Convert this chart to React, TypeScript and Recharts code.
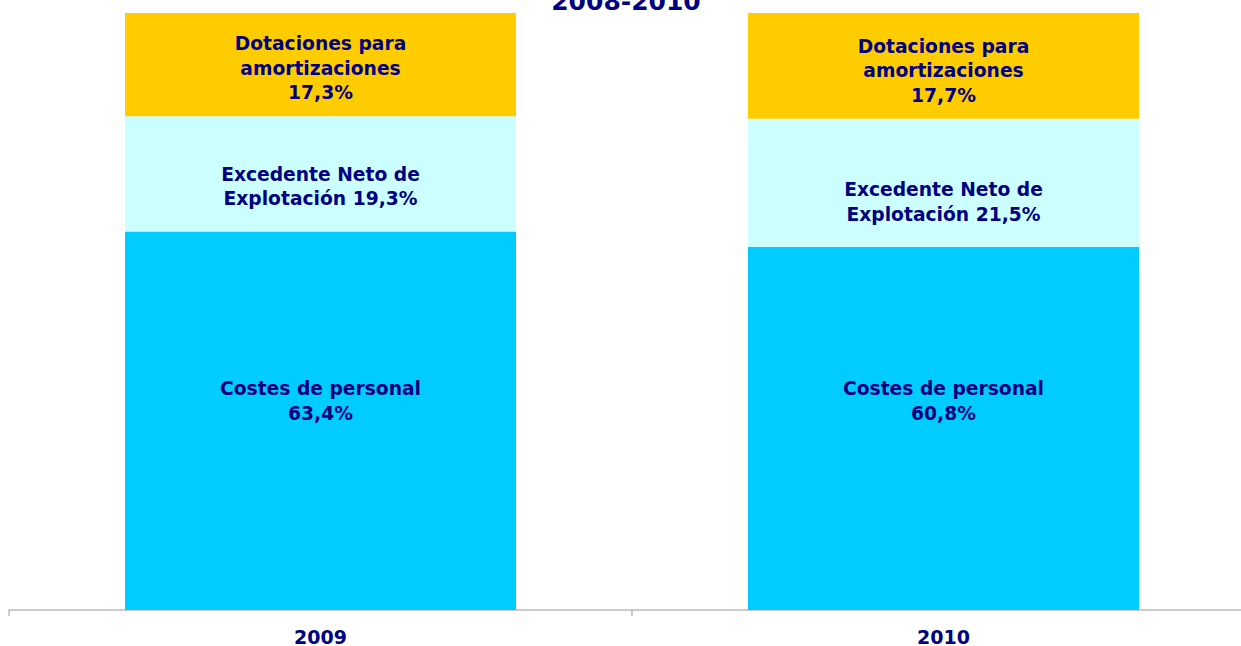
import React from 'react'
import { Bar, BarChart, LabelList, XAxis, YAxis } from 'recharts'

// values in %
const years = ['2009', '2010']
const costesPersonal = [63.4, 60.8]
const excedenteNeto = [19.3, 21.5]
const dotaciones = [17.3, 17.7]

const NAVY = '#000080'
const FONT = '"DejaVu Sans", Verdana, sans-serif'

const data = years.map((year, i) => ({
  year,
  costes: costesPersonal[i],
  excedente: excedenteNeto[i],
  dotaciones: dotaciones[i],
}))

const fmt = (v: number) => v.toFixed(1).replace('.', ',') + '%'

// label lines per series; lift = distance of the text block centre above the segment bottom
const series = [
  {
    key: 'costes',
    fill: '#00CCFF',
    lift: 209,
    lines: (v: number) => ['Costes de personal', fmt(v)],
  },
  {
    key: 'excedente',
    fill: '#CCFFFF',
    lift: 45,
    lines: (v: number) => ['Excedente Neto de', 'Explotación ' + fmt(v)],
  },
  {
    key: 'dotaciones',
    fill: '#FFCC00',
    lift: 48,
    lines: (v: number) => ['Dotaciones para', 'amortizaciones', fmt(v)],
  },
]

const LINE_H = 24.5

const makeLabel = (lift: number, lines: (v: number) => string[]) => (props: any) => {
  const vb = props.viewBox || {}
  const x = Number(props.x ?? vb.x)
  const y = Number(props.y ?? vb.y)
  const w = Number(props.width ?? vb.width)
  const h = Number(props.height ?? vb.height)
  const rows = lines(Number(props.value))
  const cx = x + w / 2
  const cy = y + h - lift
  const first = cy - ((rows.length - 1) * LINE_H) / 2
  return (
    <g>
      {rows.map((r, i) => (
        <text
          key={i}
          x={cx}
          y={first + i * LINE_H}
          textAnchor='middle'
          dominantBaseline='central'
          fill={NAVY}
          fontFamily={FONT}
          fontWeight='bold'
          fontSize={18.7}
        >
          {r}
        </text>
      ))}
    </g>
  )
}

// ticks sit on the category boundaries, labels in the middle
const YearTick = (props: any) => {
  const { x, y, payload, index, visibleTicksCount } = props
  const half = payload?.offset ?? 311.5
  const axisY = y
  return (
    <g>
      <line x1={x - half} x2={x - half} y1={axisY - 6} y2={axisY} stroke='#999999' />
      {index === visibleTicksCount - 1 && (
        <line x1={x + half} x2={x + half} y1={axisY - 6} y2={axisY} stroke='#999999' />
      )}
      <text
        x={x}
        y={axisY + 27.5}
        textAnchor='middle'
        fill={NAVY}
        fontFamily={FONT}
        fontWeight='bold'
        fontSize={19}
      >
        {payload.value}
      </text>
    </g>
  )
}

export default function App() {
  return (
    <div
      style={{
        position: 'absolute',
        top: 0,
        left: 0,
        width: 1241,
        height: 646,
        overflow: 'hidden',
        background: '#fff',
      }}
    >
      <BarChart
        width={1264}
        height={646}
        data={data}
        barSize={391}
        margin={{ top: 13, right: 9, left: 9, bottom: 0 }}
      >
        <XAxis
          dataKey='year'
          height={36}
          stroke='#999999'
          tickLine={false}
          tickSize={6}
          tickMargin={0}
          tick={<YearTick />}
          interval={0}
        />
        <YAxis hide domain={[0, 100]} />
        {series.map((s) => (
          <Bar
            key={s.key}
            dataKey={s.key}
            stackId='a'
            fill={s.fill}
            isAnimationActive={false}
          >
            <LabelList dataKey={s.key} content={makeLabel(s.lift, s.lines)} />
          </Bar>
        ))}
      </BarChart>
      <svg
        width={1241}
        height={30}
        style={{ position: 'absolute', top: 0, left: 0, pointerEvents: 'none' }}
      >
        <text
          x={626}
          y={9.5}
          textAnchor='middle'
          fill={NAVY}
          fontFamily={FONT}
          fontWeight='bold'
          fontSize={25}
        >
          2008-2010
        </text>
      </svg>
    </div>
  )
}
